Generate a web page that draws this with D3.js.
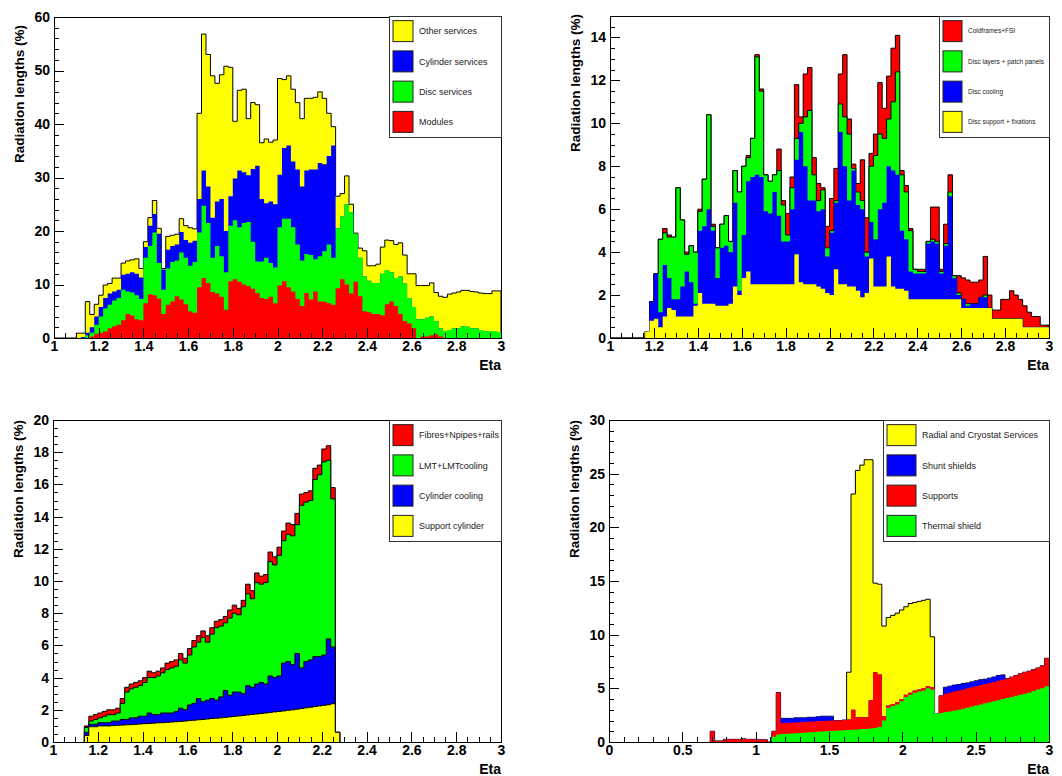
<!DOCTYPE html>
<html>
<head>
<meta charset="utf-8">
<script src="https://cdn.jsdelivr.net/npm/d3@7"></script>
<style>
body { margin: 0; background: #fff; }
svg { display: block; font-family: "Liberation Sans", Arial, sans-serif; }
</style>
</head>
<body>
<div id="chart"></div>
<script>
// Stacked sums (THStack style), bin by bin.
// Panel 1: eta 1..3, bins of 0.02
var p1Other = [
  0,0,0,0,0,0.9,0.9,6.8,4.4,6.3,
  8.0,9.9,10.2,11.2,11.2,14.0,14.4,14.6,14.8,13.0,
  18.0,22.5,25.7,20.5,13.0,19.0,19.2,19.4,22.3,21.0,
  20.6,20.4,42.0,56.8,53.0,49.0,47.6,49.2,50.8,50.6,
  40.5,46.3,46.5,41.0,44.0,43.6,36.5,37.2,36.6,37.0,
  48.5,48.3,49.0,46.5,44.0,41.0,44.8,44.8,45.0,46.0,
  44.8,42.0,39.5,26.5,27.0,30.3,25.0,19.6,16.8,16.3,
  13.5,13.5,13.8,17.0,18.3,18.2,17.5,17.8,15.5,12.0,
  12.0,9.8,9.8,9.8,10.3,8.5,7.8,7.6,8.2,8.4,
  8.6,8.9,8.9,8.7,8.6,8.4,8.3,8.3,8.8,8.8];
var p1Cylinder = [
  0,0,0,0,0,0,0.2,1.0,2.0,4.0,
  5.8,7.5,8.3,8.7,9.0,11.8,12.0,12.3,12.0,11.3,
  17.0,21.0,23.2,19.5,12.8,16.5,17.2,17.5,19.8,18.3,
  17.8,18.2,26.0,31.3,28.3,22.5,25.5,26.0,20.0,26.5,
  29.8,31.3,31.0,30.4,31.6,32.2,26.0,25.2,25.5,25.0,
  30.5,35.5,36.0,33.0,31.5,28.3,31.3,31.5,31.5,32.7,
  32.5,34.0,36.0,20.5,22.7,25.0,23.5,19.5,15.0,11.5,
  10.7,10.3,10.3,12.0,12.7,12.3,11.2,11.5,10.2,7.5,
  5.8,3.5,3.5,3.8,4.0,3.2,1.8,1.3,1.5,1.8,
  1.8,2.2,2.1,1.8,1.8,1.5,1.2,1.3,1.3,1.1];
var p1Disc = [
  0,0,0,0,0,0,0,0.5,1.0,2.5,
  4.0,5.5,6.2,7.0,7.5,9.0,8.7,8.5,8.0,7.3,
  15.0,17.2,19.7,14.0,9.0,13.0,14.2,14.5,16.0,15.0,
  13.5,14.2,19.7,24.7,21.5,15.0,17.2,15.3,12.3,21.0,
  22.0,20.7,21.5,21.7,18.0,14.3,14.3,15.0,14.0,13.2,
  20.7,22.3,22.3,20.7,17.5,14.5,15.7,15.5,14.7,15.3,
  16.2,17.5,15.0,20.5,22.7,25.0,23.5,19.5,15.0,11.5,
  10.7,10.3,10.3,12.0,12.7,12.3,11.2,11.5,10.2,7.5,
  5.8,3.5,3.5,3.8,4.0,3.2,1.8,1.3,1.5,1.8,
  1.8,2.2,2.1,1.8,1.8,1.5,1.2,1.3,1.3,1.1];
var p1Modules = [
  0,0,0,0,0,0,0,0,0.3,0.8,
  1.0,1.2,1.8,2.2,2.5,3.3,4.5,4.2,3.5,3.3,
  6.5,8.2,8.0,7.4,4.5,6.2,6.8,7.8,7.2,6.3,
  5.0,4.7,9.5,11.2,10.3,8.6,8.3,7.7,5.3,10.6,
  11.0,10.5,10.0,9.7,9.2,8.4,7.5,7.3,7.7,6.5,
  9.8,10.6,9.5,8.7,7.3,6.0,8.4,7.2,8.7,6.8,
  6.8,6.5,6.2,9.3,11.0,10.0,8.3,10.5,7.8,5.0,
  4.8,4.5,4.5,4.2,6.3,6.8,6.0,4.5,3.2,2.7,
  1.8,0,0.3,0.3,0.5,0.7,0.3,0,0,0,
  0,0,0,0,0,0,0,0,0,0];

// Panel 2: eta 1..3, bins of 0.02
var p2Frames = [
  0,0,0,0,0,0,0,0,0.3,1.7,
  3.0,4.6,5.1,4.8,4.7,7.0,5.5,4.0,4.3,4.0,
  6.0,7.4,10.4,5.3,4.2,5.3,5.7,4.5,7.8,6.8,
  8.0,8.5,9.3,13.2,11.6,7.6,7.3,7.6,8.8,6.4,
  5.8,7.5,11.8,10.3,12.3,12.6,8.4,7.2,7.0,5.2,
  6.5,7.9,12.3,13.2,10.2,8.1,7.2,8.3,5.6,8.6,
  9.5,11.9,10.7,12.2,13.5,14.1,7.8,7.1,5.1,3.2,
  3.2,3.2,4.5,6.1,6.1,3.2,5.3,7.6,2.9,2.9,
  2.8,2.7,2.6,2.6,2.7,3.8,2.0,1.3,1.3,1.8,
  1.8,2.2,2.0,1.8,1.5,1.2,1.0,1.0,0.6,0.6];
var p2Layers = [
  0,0,0,0,0,0,0,0,0.3,1.7,
  3.0,4.6,4.9,4.7,4.7,7.0,5.5,3.9,4.3,4.0,
  5.9,7.4,10.4,5.2,4.2,5.3,5.7,4.5,7.8,6.8,
  8.0,8.4,9.3,13.1,11.5,7.6,7.3,7.6,7.8,6.2,
  4.8,7.0,9.3,10.0,10.3,10.6,7.6,6.4,6.9,4.2,
  5.0,6.4,10.9,10.3,9.5,7.9,6.8,6.4,4.0,8.0,
  8.5,9.5,9.3,10.2,11.0,12.4,7.6,6.8,5.0,3.2,
  3.1,3.1,4.5,4.6,4.5,3.1,4.4,6.8,2.9,2.1,
  1.8,1.6,1.6,1.6,1.9,2.0,1.4,0.9,0.9,0.9,
  0.9,0.9,0.9,0.9,0.5,0.5,0.5,0.5,0.5,0.5];
var p2Cooling = [
  0,0,0,0,0,0,0,0,0.3,1.7,
  3.0,1.2,3.4,2.8,1.8,1.8,2.4,3.1,2.6,1.6,
  5.0,5.2,6.0,5.0,2.8,4.2,4.3,4.0,6.3,2.2,
  4.8,7.3,7.5,7.6,7.5,5.9,5.8,6.8,5.7,4.5,
  4.5,6.0,8.3,9.6,8.0,6.4,6.4,5.9,6.0,3.8,
  4.9,6.3,9.6,8.0,6.4,7.8,6.2,6.0,3.8,5.4,
  4.6,6.0,6.3,8.0,7.8,7.6,5.0,4.6,3.1,3.0,
  3.0,3.0,4.4,4.5,4.4,3.0,4.3,6.6,2.8,2.0,
  1.8,1.5,1.6,1.6,1.9,1.9,1.4,0.9,0.9,0.9,
  0.9,0.9,0.9,0.9,0.5,0.5,0.5,0.5,0.5,0.5];
var p2Support = [
  0,0,0,0,0,0,0,0,0.3,0.8,
  0.9,0.5,1.0,1.4,1.3,1.0,1.0,1.0,1.0,1.5,
  2.1,1.6,1.6,1.6,1.5,1.5,1.5,1.6,2.4,2.0,
  2.8,3.1,2.5,2.5,2.5,2.5,2.5,2.5,2.5,2.5,
  2.5,2.5,3.9,2.6,2.5,2.5,2.5,2.4,2.3,2.1,
  2.0,3.2,2.5,2.5,2.4,2.4,2.2,1.9,2.1,3.7,
  2.4,2.4,2.4,3.8,2.4,2.3,2.3,2.2,1.8,1.8,
  1.8,1.8,1.8,1.8,1.8,1.8,1.8,1.8,1.8,1.8,
  1.4,1.4,1.4,1.4,1.4,1.4,1.4,0.9,0.9,0.9,
  0.9,0.9,0.9,0.9,0.5,0.5,0.5,0.5,0.5,0.5];

// Panel 3: bins of 0.02 starting at eta 1.14
var p3Fibres = [
  1.0,1.6,1.7,1.8,1.9,2.0,2.0,2.1,2.7,3.4,
  3.6,3.7,3.8,4.0,4.4,4.3,4.4,4.6,4.9,5.0,
  5.1,5.5,5.2,5.8,6.3,6.6,6.9,6.6,7.1,7.5,
  7.6,7.8,8.2,8.5,8.3,8.8,9.8,9.4,10.5,10.3,
  10.4,11.8,11.5,12.1,13.1,13.6,13.5,14.2,15.4,15.5,
  15.6,17.0,17.2,18.2,18.4,15.8,0.6];
var p3Lmt = [
  0.9,1.3,1.4,1.5,1.6,1.7,1.7,1.8,2.4,3.1,
  3.3,3.4,3.5,3.7,4.0,4.0,4.1,4.3,4.5,4.6,
  4.7,5.1,4.9,5.4,5.9,6.2,6.5,6.2,6.7,7.1,
  7.2,7.4,7.7,8.0,7.9,8.4,9.2,8.9,9.9,9.8,
  9.9,11.2,11.0,11.6,12.5,12.9,12.8,13.5,14.7,14.9,
  15.0,16.3,16.6,17.4,17.5,15.1,0.6];
var p3Cooling = [
  0.6,1.1,1.1,1.2,1.2,1.2,1.3,1.3,1.4,1.4,
  1.5,1.5,1.6,1.6,1.8,1.7,1.7,1.8,1.8,1.8,
  1.9,2.1,2.0,2.3,2.4,2.7,2.5,2.6,2.7,2.6,
  2.8,3.2,2.9,3.1,3.1,3.0,3.5,3.4,3.6,3.7,
  3.6,4.1,4.0,4.1,4.9,5.0,4.8,5.5,4.6,5.0,
  5.1,5.3,5.3,5.4,6.4,5.9,0.6];
var p3Support = [
  0.4,0.95,0.95,1.0,1.0,1.0,1.02,1.04,1.05,1.07,
  1.08,1.1,1.12,1.14,1.15,1.17,1.19,1.2,1.22,1.24,
  1.26,1.28,1.3,1.33,1.35,1.38,1.4,1.43,1.46,1.48,
  1.5,1.53,1.56,1.59,1.62,1.65,1.68,1.71,1.74,1.77,
  1.8,1.84,1.87,1.9,1.93,1.97,2.0,2.04,2.08,2.12,
  2.16,2.2,2.24,2.28,2.32,2.38,0.6];

// Panel 4: bins of 0.03 starting at eta 0.69
var p4Radial = [
  1.0,0.1,0.1,0.25,0.25,0.25,0.25,0.3,0.25,0.25,0.25,0.2,0.2,0,
  1.0,4.6,2.2,2.2,2.2,2.25,2.25,2.25,2.3,2.3,
  2.35,2.4,2.4,2.4,2.0,2.0,2.05,6.5,23.1,25.3,
  25.8,26.3,26.3,14.8,14.7,10.8,11.6,11.8,12.0,12.3,
  12.6,12.9,13.0,13.1,13.2,13.3,9.8,2.6,4.3,5.1,
  5.2,5.3,5.35,5.45,5.5,5.6,5.7,5.8,5.85,5.95,
  6.05,6.2,6.25,5.9,6.05,6.2,6.35,6.5,6.6,6.75,
  6.9,7.1,7.8];
var p4Shunt = [
  1.0,0.1,0.1,0.25,0.25,0.25,0.25,0.3,0.25,0.25,0.25,0.2,0.2,0,
  1.0,4.6,2.2,2.2,2.2,2.25,2.25,2.25,2.3,2.3,
  2.35,2.4,2.4,2.4,2.0,2.0,2.05,2.1,3.0,2.3,
  2.3,2.3,3.9,6.5,6.3,2.4,3.4,3.55,3.7,4.0,
  4.4,4.6,4.8,4.9,5.0,5.2,5.1,2.6,4.3,5.1,
  5.2,5.3,5.35,5.45,5.5,5.6,5.7,5.8,5.85,5.95,
  6.05,6.2,6.25,5.9,6.05,6.2,6.35,6.5,6.6,6.75,
  6.9,7.1,7.8];
var p4Supports = [
  1.0,0.1,0.1,0.25,0.25,0.25,0.25,0.3,0.25,0.25,0.25,0.2,0.2,0,
  1.0,4.6,1.75,1.78,1.8,1.82,1.85,1.87,1.9,1.92,
  1.95,1.95,1.98,2.0,2.0,2.0,2.05,2.1,3.0,2.3,
  2.3,2.3,3.9,6.5,6.3,2.4,3.4,3.55,3.7,4.0,
  4.4,4.6,4.8,4.9,5.0,5.2,5.1,2.6,4.3,4.5,
  4.6,4.7,4.8,4.9,5.0,5.1,5.2,5.3,5.4,5.5,
  5.6,5.7,5.8,5.9,6.05,6.2,6.35,6.5,6.6,6.75,
  6.9,7.1,7.8];
var p4Thermal = [
  0,0,0,0,0,0,0,0,0,0,0,0,0,0,
  0.5,0.7,0.75,0.78,0.8,0.82,0.85,0.87,0.9,0.92,
  0.95,0.97,1.0,1.02,1.05,1.07,1.1,1.12,1.15,1.17,
  1.2,1.22,1.25,1.3,1.4,2.0,3.2,3.35,3.5,3.8,
  4.2,4.4,4.6,4.7,4.8,5.0,4.9,2.6,2.7,2.8,
  2.85,2.9,3.0,3.1,3.2,3.3,3.4,3.5,3.6,3.7,
  3.8,3.9,4.0,4.1,4.2,4.3,4.4,4.5,4.6,4.75,
  4.9,5.0,5.2];

// tick labels
var etaTicks = [1, 1.2, 1.4, 1.6, 1.8, 2, 2.2, 2.4, 2.6, 2.8, 3];
var etaTicks4 = [0, 0.5, 1, 1.5, 2, 2.5, 3];
var p1YTicks = [0, 10, 20, 30, 40, 50, 60];
var p2YTicks = [0, 2, 4, 6, 8, 10, 12, 14];
var p3YTicks = [0, 2, 4, 6, 8, 10, 12, 14, 16, 18, 20];
var p4YTicks = [0, 5, 10, 15, 20, 25, 30];

var YELLOW = "#ffff00", BLUE = "#0000ff", GREEN = "#00ff00", RED = "#ff0000";

var panels = [
  {
    frame: {left: 54, right: 501, top: 17, bottom: 338},
    xDomain: [1, 3], yMax: 60, xTicks: etaTicks, xMinor: 0.05, yTicks: p1YTicks, yMinor: 2,
    start: 1.0, width: 0.02, titleEnd: 25,
    layers: [
      {name: "Other services", color: YELLOW, sums: p1Other, outline: true},
      {name: "Cylinder services", color: BLUE, sums: p1Cylinder, outline: false},
      {name: "Disc services", color: GREEN, sums: p1Disc, outline: false},
      {name: "Modules", color: RED, sums: p1Modules, outline: false}
    ],
    legend: {left: 389, top: 16, right: 501, bottom: 137, sw: 20, font: 9}
  },
  {
    frame: {left: 610, right: 1049, top: 16, bottom: 338},
    xDomain: [1, 3], yMax: 15, xTicks: etaTicks, xMinor: 0.05, yTicks: p2YTicks, yMinor: 0.5,
    start: 1.0, width: 0.02, titleEnd: 14,
    layers: [
      {name: "Coldframes+FSI", color: RED, sums: p2Frames, outline: true},
      {name: "Disc layers + patch panels", color: GREEN, sums: p2Layers, outline: true},
      {name: "Disc cooling", color: BLUE, sums: p2Cooling, outline: false},
      {name: "Disc support + fixations", color: YELLOW, sums: p2Support, outline: false}
    ],
    legend: {left: 939, top: 16, right: 1049, bottom: 137, sw: 19, font: 6.5}
  },
  {
    frame: {left: 53, right: 501, top: 420, bottom: 742},
    xDomain: [1, 3], yMax: 20, xTicks: etaTicks, xMinor: 0.05, yTicks: p3YTicks, yMinor: 0.5,
    start: 1.14, width: 0.02, titleEnd: 420,
    layers: [
      {name: "Fibres+Npipes+rails", color: RED, sums: p3Fibres, outline: true},
      {name: "LMT+LMTcooling", color: GREEN, sums: p3Lmt, outline: true},
      {name: "Cylinder cooling", color: BLUE, sums: p3Cooling, outline: true},
      {name: "Support cylinder", color: YELLOW, sums: p3Support, outline: true}
    ],
    legend: {left: 389, top: 420, right: 501, bottom: 541, sw: 20, font: 9}
  },
  {
    frame: {left: 609, right: 1049, top: 420, bottom: 742},
    xDomain: [0, 3], yMax: 30, xTicks: etaTicks4, xMinor: 0.1, yTicks: p4YTicks, yMinor: 1,
    start: 0.69, width: 0.03, titleEnd: 420,
    layers: [
      {name: "Radial and Cryostat Services", color: YELLOW, sums: p4Radial, outline: true},
      {name: "Shunt shields", color: BLUE, sums: p4Shunt, outline: false},
      {name: "Supports", color: RED, sums: p4Supports, outline: false},
      {name: "Thermal shield", color: GREEN, sums: p4Thermal, outline: false}
    ],
    legend: {left: 883, top: 420, right: 1049, bottom: 541, sw: 29, font: 9}
  }
];

var svg = d3.select("#chart").append("svg")
    .attr("width", 1062)
    .attr("height", 776);

svg.append("rect").attr("width", 1062).attr("height", 776).attr("fill", "#fff");

// histogram bins -> step points
function stepPoints(start, width, vals) {
  var pts = [];
  vals.forEach(function(v, i) {
    pts.push([start + i * width, v]);
    pts.push([start + (i + 1) * width, v]);
  });
  return pts;
}

panels.forEach(function(p, pi) {
  var f = p.frame;
  var x = d3.scaleLinear().domain(p.xDomain).range([f.left, f.right]);
  var y = d3.scaleLinear().domain([0, p.yMax]).range([f.bottom, f.top]);
  var g = svg.append("g");

  var clipId = "clip" + pi;
  g.append("clipPath").attr("id", clipId)
    .append("rect")
      .attr("x", f.left).attr("y", f.top)
      .attr("width", f.right - f.left).attr("height", f.bottom - f.top);

  var plot = g.append("g").attr("clip-path", "url(#" + clipId + ")");

  var area = d3.area()
      .x(function(d) { return x(d[0]); })
      .y0(y(0))
      .y1(function(d) { return y(d[1]); });
  var line = d3.line()
      .x(function(d) { return x(d[0]); })
      .y(function(d) { return y(d[1]); });

  // biggest sum first, the smaller ones painted over it
  p.layers.forEach(function(l) {
    var pts = stepPoints(p.start, p.width, l.sums);
    plot.append("path")
      .attr("d", area(pts))
      .attr("fill", l.color)
      .attr("stroke", "none");
    if (l.outline) {
      var end = p.start + l.sums.length * p.width;
      var outline = [[p.start, 0]].concat(pts).concat([[end, 0]]);
      plot.append("path")
        .attr("d", line(outline))
        .attr("fill", "none")
        .attr("stroke", "#000")
        .attr("stroke-width", 1);
    }
  });

  // frame
  g.append("rect")
    .attr("x", f.left).attr("y", f.top)
    .attr("width", f.right - f.left).attr("height", f.bottom - f.top)
    .attr("fill", "none").attr("stroke", "#000").attr("stroke-width", 1)
    .attr("shape-rendering", "crispEdges");

  // axes, ticks pointing inward like ROOT
  var yMinorVals = d3.range(0, p.yMax + 1e-9, p.yMinor);
  var xMinorVals = d3.range(p.xDomain[0], p.xDomain[1] + 1e-9, p.xMinor);

  var yMin = g.append("g").attr("transform", "translate(" + f.left + ",0)")
    .call(d3.axisLeft(y).tickValues(yMinorVals).tickSize(-5).tickFormat(""));
  var yAx = g.append("g").attr("transform", "translate(" + f.left + ",0)")
    .call(d3.axisLeft(y).tickValues(p.yTicks).tickSize(-10).tickSizeOuter(0).tickPadding(4)
      .tickFormat(d3.format("~g")));
  var xMin = g.append("g").attr("transform", "translate(0," + f.bottom + ")")
    .call(d3.axisBottom(x).tickValues(xMinorVals).tickSize(-5).tickFormat(""));
  var xAx = g.append("g").attr("transform", "translate(0," + f.bottom + ")")
    .call(d3.axisBottom(x).tickValues(p.xTicks).tickSize(-10).tickSizeOuter(0).tickPadding(3)
      .tickFormat(d3.format("~g")));

  [yMin, yAx, xMin, xAx].forEach(function(a) {
    a.select(".domain").remove();
    a.selectAll("line").attr("stroke", "#000").attr("shape-rendering", "crispEdges");
    a.selectAll("text")
      .attr("fill", "#000")
      .style("font-family", "'Liberation Sans', Arial, sans-serif")
      .style("font-weight", "bold")
      .style("font-size", "14px");
  });

  // axis titles
  g.append("text")
    .attr("transform", "translate(" + (f.left - 30) + "," + p.titleEnd + ") rotate(-90)")
    .attr("text-anchor", "end")
    .style("font-weight", "bold")
    .style("font-size", "13.5px")
    .text("Radiation lengths (%)");

  g.append("text")
    .attr("x", f.right)
    .attr("y", f.bottom + 32)
    .attr("text-anchor", "end")
    .style("font-weight", "bold")
    .style("font-size", "14px")
    .text("Eta");

  // legend
  var lg = p.legend;
  var leg = g.append("g");
  leg.append("rect")
    .attr("x", lg.left).attr("y", lg.top)
    .attr("width", lg.right - lg.left).attr("height", lg.bottom - lg.top)
    .attr("fill", "#fff").attr("stroke", "#333").attr("stroke-width", 1)
    .attr("shape-rendering", "crispEdges");
  var rowH = (lg.bottom - lg.top) / p.layers.length;
  p.layers.forEach(function(l, i) {
    var cy = lg.top + rowH * (i + 0.5);
    leg.append("rect")
      .attr("x", lg.left + 4).attr("y", cy - 10.5)
      .attr("width", lg.sw).attr("height", 21)
      .attr("fill", l.color).attr("stroke", "#222").attr("stroke-width", 1);
    leg.append("text")
      .attr("x", lg.left + lg.sw + 10)
      .attr("y", cy)
      .attr("dy", "0.35em")
      .style("font-size", lg.font + "px")
      .attr("fill", "#222")
      .text(l.name);
  });
});
</script>
</body>
</html>
